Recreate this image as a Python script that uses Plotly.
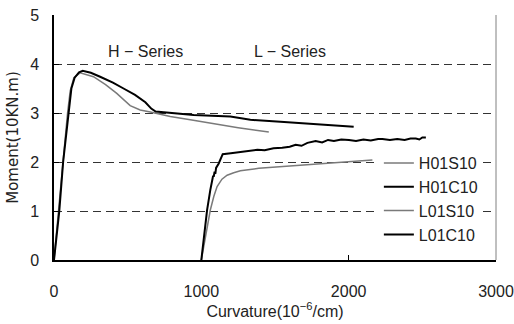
import plotly.graph_objects as go

# H-series
h01s10_x = [0, 30, 58, 92, 110, 135, 177, 268, 350, 426, 517, 585, 653, 789, 925, 1083, 1250, 1458]
h01s10_y = [0, 1.0, 2.0, 3.0, 3.45, 3.72, 3.82, 3.74, 3.58, 3.40, 3.15, 3.06, 3.02, 2.93, 2.86, 2.78, 2.70, 2.61]

h01c10_x = [0, 36, 62, 100, 118, 140, 170, 195, 250, 313, 400, 472, 550, 620, 660, 690, 789, 948, 1197, 1333, 1537, 1800, 2034]
h01c10_y = [0, 1.0, 2.0, 3.0, 3.5, 3.72, 3.83, 3.86, 3.82, 3.74, 3.62, 3.50, 3.37, 3.22, 3.09, 3.03, 3.00, 2.96, 2.93, 2.86, 2.82, 2.77, 2.72]

# L-series
l01s10_x = [1000, 1020, 1040, 1061, 1085, 1107, 1140, 1175, 1220, 1265, 1390, 1605, 1800, 2000, 2161]
l01s10_y = [0, 0.35, 0.70, 1.02, 1.30, 1.50, 1.65, 1.73, 1.78, 1.82, 1.87, 1.92, 1.96, 2.00, 2.04]

l01c10_x = [1000, 1016, 1039, 1061, 1075, 1080, 1084, 1090, 1095, 1100, 1118, 1145,
            1200, 1260, 1322, 1380, 1430, 1490, 1549, 1600, 1640, 1680, 1720, 1776,
            1820, 1860, 1900, 1950, 2002, 2050, 2100, 2150, 2200, 2229, 2280, 2330,
            2380, 2420, 2456, 2480, 2500, 2524]
l01c10_y = [0, 0.41, 1.02, 1.43, 1.62, 1.72, 1.70, 1.80, 1.76, 1.88, 1.97, 2.16,
            2.18, 2.20, 2.22, 2.25, 2.24, 2.28, 2.29, 2.31, 2.35, 2.33, 2.39, 2.43,
            2.40, 2.45, 2.43, 2.46, 2.45, 2.43, 2.46, 2.44, 2.47, 2.47, 2.45, 2.47,
            2.45, 2.48, 2.48, 2.46, 2.50, 2.50]

series_labels = ["H01S10", "H01C10", "L01S10", "L01C10"]
group_labels = ["H − Series", "L − Series"]
group_label_x = [619, 1605]
group_label_y = [4.25, 4.25]

x_ticks = [0, 1000, 2000, 3000]
y_ticks = [0, 1, 2, 3, 4, 5]

FONT = "Liberation Sans, Arial, sans-serif"
GRAY = "#7a7a7a"

fig = go.Figure()
fig.add_trace(go.Scatter(x=h01s10_x, y=h01s10_y, mode="lines", name=series_labels[0],
                         line=dict(color=GRAY, width=1.5)))
fig.add_trace(go.Scatter(x=h01c10_x, y=h01c10_y, mode="lines", name=series_labels[1],
                         line=dict(color="black", width=2)))
fig.add_trace(go.Scatter(x=l01s10_x, y=l01s10_y, mode="lines", name=series_labels[2],
                         line=dict(color=GRAY, width=1.5)))
fig.add_trace(go.Scatter(x=l01c10_x, y=l01c10_y, mode="lines", name=series_labels[3],
                         line=dict(color="black", width=2)))

for t, gx, gy in zip(group_labels, group_label_x, group_label_y):
    fig.add_annotation(x=gx, y=gy, text=t, showarrow=False,
                       font=dict(family=FONT, size=16, color="#222"))

fig.add_shape(type="line", xref="paper", yref="paper", x0=1, x1=1, y0=0, y1=1,
              line=dict(color="#808080", width=1))

fig.update_layout(
    width=514, height=324,
    margin=dict(l=54, r=18, t=15, b=64, autoexpand=False),
    paper_bgcolor="white", plot_bgcolor="white",
    font=dict(family=FONT, size=16, color="#222"),
    showlegend=True,
    legend=dict(x=0.735, y=0.465, xanchor="left", yanchor="top",
                bgcolor="white", font=dict(size=16, color="#222"),
                tracegroupgap=0),
    xaxis=dict(range=[0, 3000], tickvals=x_ticks, showgrid=False, automargin=False,
               showline=True, linecolor="black", linewidth=1.5,
               ticks="inside", ticklen=5, tickcolor="black",
               ticklabelstandoff=16, zeroline=False,
               title=dict(text="Curvature(10<sup>−6</sup>/cm)", standoff=6,
                          font=dict(size=16))),
    yaxis=dict(range=[0, 5], tickvals=y_ticks, showgrid=True, automargin=False,
               gridcolor="#333", griddash="8px,5px", gridwidth=1,
               showline=True, linecolor="black", linewidth=1.5,
               ticks="inside", ticklen=5, tickcolor="black",
               ticklabelstandoff=10, zeroline=False,
               title=dict(text="Moment(10KN.m)", standoff=8,
                          font=dict(family="DejaVu Sans", size=15))),
)

fig.write_html("out.html")
